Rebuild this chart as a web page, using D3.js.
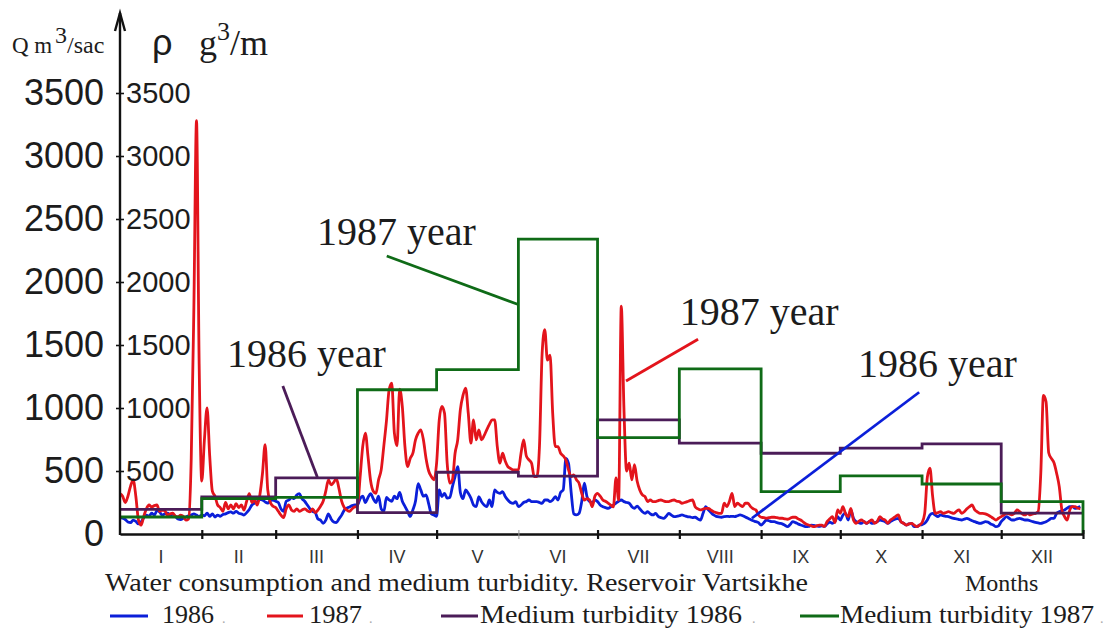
<!DOCTYPE html>
<html>
<head>
<meta charset="utf-8">
<script src="https://cdn.jsdelivr.net/npm/d3@7"></script>
<style>
  body { margin: 0; background: #fff; }
  svg { display: block; }
</style>
</head>
<body>
<svg id="chart" width="1109" height="628"></svg>
<script>
// Month labels and lengths (days) for the calendar axis
const months = ["I", "II", "III", "IV", "V", "VI", "VII", "VIII", "IX", "X", "XI", "XII"];
const monthLengths = [31, 28, 31, 30, 31, 30, 31, 31, 30, 31, 30, 31];

// Tick values of the two vertical scales
const qTicks = [0, 500, 1000, 1500, 2000, 2500, 3000, 3500];
const rhoTicks = [500, 1000, 1500, 2000, 2500, 3000, 3500];

// Monthly medium turbidity, g/m3
const turbidity1986 = [195, 295, 445, 170, 490, 460, 905, 722, 641, 681, 715, 165];
const turbidity1987 = [135, 280, 290, 1145, 1305, 2340, 765, 1310, 336, 461, 397, 257];

// Daily water consumption 1986, m3/sec (Jan 1 .. Dec 31)
const flow1986 = [
  130,125,115,95,90,110,100,80,95,130,150,140,165,150,185,175,150,160,165,150,155,140,120,115,125,135,145,150,160,150,140,
  150,145,165,140,160,135,150,140,155,160,170,175,165,180,165,160,150,170,195,230,245,255,275,270,255,245,265,270,
  260,250,200,180,260,270,290,280,310,320,280,260,230,200,180,170,120,110,85,110,160,120,95,90,120,150,190,205,215,225,230,
  230,280,300,250,290,320,280,250,300,200,180,290,270,260,300,280,330,260,220,180,140,190,260,400,350,300,310,240,160,150,
  140,350,297,323,285,290,376,456,535,330,280,350,323,285,230,217,297,257,230,217,270,217,350,330,323,337,297,270,250,243,257,
  217,230,250,257,270,257,257,257,250,243,270,270,257,270,297,270,330,350,600,560,330,160,151,164,257,403,297,257,250,270,
  257,230,217,210,204,215,230,245,260,270,257,250,244,217,204,222,200,177,164,177,160,151,164,140,130,124,140,164,150,138,140,
  145,151,145,138,135,130,133,120,111,164,217,191,170,151,140,135,133,138,140,138,140,138,145,151,145,135,125,115,105,98,90,
  71,90,111,105,98,98,90,85,80,70,58,75,98,90,80,71,65,58,60,71,68,64,60,64,60,80,95,85,100,138,
  111,150,164,111,191,124,98,90,85,98,85,98,85,90,98,111,105,98,85,98,111,120,124,98,85,71,80,85,58,58,71,
  75,85,111,151,164,150,138,151,145,140,138,130,124,120,115,111,118,124,115,105,98,90,85,90,98,95,80,71,58,65,
  98,120,138,125,111,111,120,124,118,111,111,105,98,92,88,85,90,98,110,124,124,164,177,185,191,205,217,217,204,210,217
];

// Daily water consumption 1987, m3/sec (Jan 1 .. Dec 31)
const flow1987 = [
  320,300,250,300,380,430,300,110,70,140,200,230,215,225,230,180,190,185,150,160,165,140,135,150,140,110,120,600,1800,3280,1350,
  420,750,1000,620,340,300,230,210,180,250,200,230,200,240,210,230,190,260,320,250,270,230,310,480,710,350,250,220,
  210,180,150,130,200,230,190,180,200,180,190,200,185,175,200,170,190,220,260,340,430,390,410,440,360,260,210,190,180,200,215,
  217,450,695,801,616,420,340,323,430,509,700,900,1145,1198,800,700,1150,1012,694,535,600,641,747,800,827,747,600,500,456,430,
  562,906,1012,959,562,403,430,641,747,986,1100,1158,959,721,906,747,827,747,780,827,870,906,906,694,562,641,580,535,520,509,509,
  509,641,747,620,588,562,456,456,700,1436,1622,1380,1420,959,694,694,641,620,588,509,456,470,430,403,323,270,280,270,217,300,
  323,300,270,260,245,230,215,445,270,1808,1000,500,562,430,550,420,350,310,297,257,270,257,257,265,270,262,257,257,265,270,260,
  257,244,250,257,265,270,217,200,191,198,204,204,190,177,170,164,164,244,217,260,323,217,244,230,217,244,244,217,200,191,151,
  133,130,125,130,133,133,130,125,125,120,117,125,133,133,120,111,95,80,71,65,58,65,71,70,60,98,120,138,90,191,
  164,217,160,138,204,111,85,100,111,98,85,100,111,85,98,138,120,111,85,111,124,140,151,98,85,71,80,85,71,58,71,
  90,164,450,522,300,164,170,177,164,170,177,170,164,180,191,164,177,200,217,230,191,175,164,164,160,151,138,124,111,125,
  138,151,164,160,151,164,191,177,160,151,164,151,160,164,177,482,1100,1050,645,600,565,482,376,191,138,111,191,217,217,204,200
];

const COLORS = { c1986: "#0b1fd9", c1987: "#e3141c", t1986: "#4b1c58", t1987: "#0f6b17" };
const SERIF = "'Liberation Serif', 'Times New Roman', serif";
const SANS = "'Liberation Sans', Arial, sans-serif";

// Callout labels with leader lines, positioned in data units [day, value]
const callouts = [
  { label: "1987 year", color: COLORS.t1987, at: [74.7, 2294], from: [101.1, 2206], to: [150.7, 1823] },
  { label: "1986 year", color: COLORS.t1986, at: [40.6, 1325], from: [61.7, 1175], to: [74.8, 450] },
  { label: "1987 year", color: COLORS.c1987, at: [212.2, 1659], from: [219.1, 1545], to: [191.8, 1214] },
  { label: "1986 year", color: COLORS.c1986, at: [279.7, 1246], from: [302.9, 1125], to: [239.5, 125] }
];

const svg = d3.select("#chart");

// Day of year at which each month starts, plus the year end: [0, 31, 59, ..., 365]
const monthStarts = [0, ...Array.from(d3.cumsum(monthLengths))];

const x = d3.scaleLinear().domain([0, 365]).range([120, 1083]);
const y = d3.scaleLinear().domain([0, 3500]).range([534, 93]);

// ---- daily flow lines ----
const flowLine = d3.line()
  .x((d, i) => x(i))
  .y(d => y(d))
  .curve(d3.curveMonotoneX);

svg.append("path").datum(flow1986)
  .attr("d", flowLine).attr("fill", "none")
  .attr("stroke", COLORS.c1986).attr("stroke-width", 2.8).attr("stroke-linejoin", "round");

svg.append("path").datum(flow1987)
  .attr("d", flowLine).attr("fill", "none")
  .attr("stroke", COLORS.c1987).attr("stroke-width", 2.8).attr("stroke-linejoin", "round");

// ---- monthly turbidity steps ----
function stepPoints(vals, dropToZero) {
  const pts = vals.map((v, i) => [monthStarts[i], v]);
  pts.push([365, vals[vals.length - 1]]);
  if (dropToZero) pts.push([365, 0]);
  return pts;
}
const stepLine = d3.line()
  .x(d => x(d[0]))
  .y(d => y(d[1]))
  .curve(d3.curveStepAfter);

svg.append("path").datum(stepPoints(turbidity1986, false))
  .attr("d", stepLine).attr("fill", "none")
  .attr("stroke", COLORS.t1986).attr("stroke-width", 2.8);

svg.append("path").datum(stepPoints(turbidity1987, true))
  .attr("d", stepLine).attr("fill", "none")
  .attr("stroke", COLORS.t1987).attr("stroke-width", 2.8);

// ---- x axis (months) ----
const xAxis = svg.append("g")
  .attr("transform", `translate(0,${y(0)})`)
  .call(d3.axisBottom(x).tickValues(monthStarts.slice(1)).tickSize(5).tickSizeOuter(0).tickFormat(""));
xAxis.select(".domain").attr("stroke", "#111").attr("stroke-width", 2.6);
xAxis.selectAll(".tick line").attr("y1", -4).attr("stroke", "#111").attr("stroke-width", 2.2);
xAxis.selectAll(".tick line").filter(d => d === 151).attr("stroke", "#999").attr("stroke-width", 1);

svg.append("g").selectAll("text").data(months).join("text")
  .attr("x", (d, i) => x((monthStarts[i] + monthStarts[i + 1]) / 2))
  .attr("y", 563)
  .attr("text-anchor", "middle")
  .attr("font-family", SANS).attr("font-size", 18).attr("fill", "#333")
  .text(d => d);

// ---- y axis with arrow ----
svg.append("line")
  .attr("x1", x(0)).attr("x2", x(0)).attr("y1", y(0) + 1).attr("y2", 13)
  .attr("stroke", "#111").attr("stroke-width", 2.4);
svg.append("path")
  .attr("d", `M${x(0) - 5},31 L${x(0)},13 L${x(0) + 5},31`)
  .attr("fill", "none").attr("stroke", "#111").attr("stroke-width", 2.4);

// Q scale (large labels, left)
const qAxis = svg.append("g")
  .attr("transform", `translate(${x(0)},0)`)
  .call(d3.axisLeft(y).tickValues(qTicks).tickFormat(d3.format("d")).tickSize(0).tickPadding(16));
qAxis.select(".domain").remove();
qAxis.selectAll("text")
  .attr("font-family", SANS).attr("font-size", 36).attr("fill", "#1c1c1c");

// rho scale (small labels, right of the axis)
const rAxis = svg.append("g")
  .attr("transform", `translate(${x(0)},0)`)
  .call(d3.axisRight(y).tickValues(rhoTicks).tickFormat(d3.format("d")).tickSize(4).tickPadding(2));
rAxis.select(".domain").remove();
rAxis.selectAll(".tick line").attr("x1", -4).attr("stroke", "#111").attr("stroke-width", 1.6);
rAxis.selectAll("text")
  .attr("font-family", SANS).attr("font-size", 29).attr("fill", "#1c1c1c");

// ---- axis unit captions ----
const cap = svg.append("g").attr("fill", "#1c1c1c");
cap.append("text").attr("x", 12).attr("y", 53)
  .attr("font-family", SERIF).attr("font-size", 23).text("Q m");
cap.append("text").attr("x", 55).attr("y", 43)
  .attr("font-family", SERIF).attr("font-size", 24).text("3");
cap.append("text").attr("x", 67).attr("y", 53)
  .attr("font-family", SERIF).attr("font-size", 24).text("/sac");

cap.append("text").attr("x", 152).attr("y", 55)
  .attr("font-family", SANS).attr("font-size", 36).text("ρ");
cap.append("text").attr("x", 199).attr("y", 55)
  .attr("font-family", SERIF).attr("font-size", 36).text("g");
cap.append("text").attr("x", 217).attr("y", 40)
  .attr("font-family", SERIF).attr("font-size", 26).text("3");
cap.append("text").attr("x", 230).attr("y", 55)
  .attr("font-family", SERIF).attr("font-size", 36).text("/m");

// ---- callouts ----
const co = svg.append("g");
co.selectAll("line").data(callouts).join("line")
  .attr("x1", d => x(d.from[0])).attr("y1", d => y(d.from[1]))
  .attr("x2", d => x(d.to[0])).attr("y2", d => y(d.to[1]))
  .attr("stroke", d => d.color).attr("stroke-width", 2.8);
co.selectAll("text").data(callouts).join("text")
  .attr("x", d => x(d.at[0])).attr("y", d => y(d.at[1]))
  .attr("font-family", SERIF).attr("font-size", 40).attr("fill", "#1c1c1c")
  .text(d => d.label);

// ---- caption and legend ----
svg.append("text").attr("x", 105).attr("y", 591)
  .attr("font-family", SERIF).attr("font-size", 26).attr("fill", "#1c1c1c")
  .attr("textLength", 703).attr("lengthAdjust", "spacingAndGlyphs")
  .text("Water consumption and medium turbidity. Reservoir Vartsikhe");
svg.append("text").attr("x", 965).attr("y", 591)
  .attr("font-family", SERIF).attr("font-size", 24).attr("fill", "#1c1c1c")
  .text("Months");

const legendItems = [
  { label: "1986", color: COLORS.c1986, x0: 110, x1: 148, tx: 162, span: 52, dot: 222 },
  { label: "1987", color: COLORS.c1987, x0: 267, x1: 303, tx: 309, span: 53, dot: 369 },
  { label: "Medium turbidity 1986", color: COLORS.t1986, x0: 441, x1: 478, tx: 480, span: 262, dot: 752 },
  { label: "Medium turbidity 1987", color: COLORS.t1987, x0: 800, x1: 839, tx: 840, span: 254, dot: 1100 }
];
const lg = svg.append("g");
lg.selectAll("line").data(legendItems).join("line")
  .attr("x1", d => d.x0).attr("x2", d => d.x1).attr("y1", 616).attr("y2", 616)
  .attr("stroke", d => d.color).attr("stroke-width", 3);
lg.selectAll("text.lab").data(legendItems).join("text").attr("class", "lab")
  .attr("x", d => d.tx).attr("y", 623)
  .attr("font-family", SERIF).attr("font-size", 26).attr("fill", "#1c1c1c")
  .attr("textLength", d => d.span).attr("lengthAdjust", "spacingAndGlyphs")
  .text(d => d.label);
lg.selectAll("text.dot").data(legendItems).join("text").attr("class", "dot")
  .attr("x", d => d.dot).attr("y", 623)
  .attr("font-family", SERIF).attr("font-size", 14).attr("fill", "#aaa")
  .text(".");
</script>
</body>
</html>
